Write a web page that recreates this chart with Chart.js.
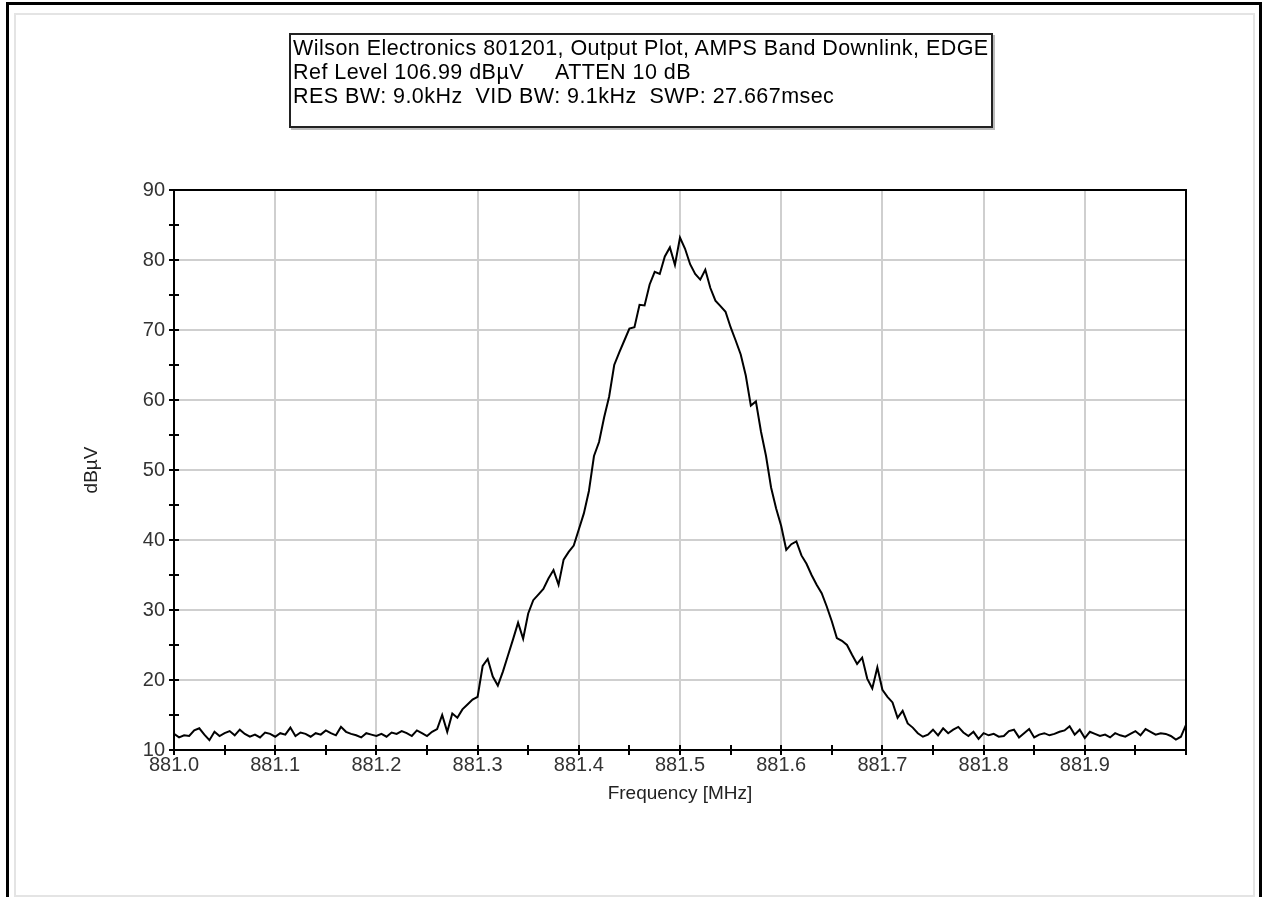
<!DOCTYPE html>
<html>
<head>
<meta charset="utf-8">
<script src="https://cdn.jsdelivr.net/npm/chart.js@4.4.1/dist/chart.umd.min.js"></script>
<style>
    html, body { margin: 0; padding: 0; background: #fff; }
    body { width: 1267px; height: 897px; position: relative; overflow: hidden; font-family: 'Liberation Sans', Arial, sans-serif; }
    #outer { position: absolute; left: 6px; top: 2px; width: 1250px; height: 900px; border-left: 3px solid #000; border-top: 3px solid #000; border-right: 3px solid #000; }
    #inner { position: absolute; left: 14px; top: 13px; width: 1237px; height: 880px; border: 2px solid #e4e4e4; }
    #chart { position: absolute; left: 0; top: 0; }
    #header { position: absolute; left: 289px; top: 33px; width: 698px; height: 90px; border: 2px solid #222;
              box-shadow: 2px 2px 0 #bbb; background: #fff; font-size: 21.5px; line-height: 24px; color: #000; padding: 1px 0 0 2px; white-space: nowrap; letter-spacing: 0.45px; }
</style>
</head>
<body>
<div id="outer"></div>
<div id="inner"></div>
<canvas id="chart" width="1267" height="897"></canvas>
<div id="header"></div>
<script>
// sweep: 881.000 .. 882.000 MHz, one reading every 5 kHz
var sweepStart = 881.0;
var sweepStep = 0.005;

var levels = [
    12.3, 11.8, 12.1, 12.0, 12.8, 13.1, 12.2, 11.4, 12.6, 12.0,
    12.4, 12.7, 12.1, 12.9, 12.3, 11.9, 12.2, 11.8, 12.5, 12.3,
    11.9, 12.4, 12.2, 13.2, 12.0, 12.5, 12.3, 11.9, 12.4, 12.2,
    12.8, 12.4, 12.1, 13.3, 12.6, 12.3, 12.1, 11.8, 12.4, 12.2,
    12.0, 12.3, 11.9, 12.5, 12.3, 12.7, 12.4, 12.0, 12.8, 12.4,
    12.0, 12.6, 13.0, 15.0, 12.6, 15.2, 14.6, 15.8, 16.5, 17.2,
    17.6, 22.0, 23.0, 20.5, 19.2, 21.2, 23.5, 25.8, 28.2, 25.9,
    29.5, 31.4, 32.2, 33.0, 34.5, 35.7, 33.6, 37.2, 38.3, 39.2,
    41.5, 43.8, 47.0, 52.0, 54.0, 57.5, 60.5, 65.0, 66.8, 68.5,
    70.2, 70.4, 73.6, 73.5, 76.5, 78.3, 78.0, 80.5, 81.8, 79.3,
    83.2, 81.6, 79.4, 78.0, 77.2, 78.6, 76.0, 74.2, 73.4, 72.6,
    70.4, 68.5, 66.5, 63.5, 59.2, 59.8, 55.5, 52.0, 47.5, 44.5,
    42.0, 38.6, 39.4, 39.8, 37.8, 36.6, 35.0, 33.6, 32.4, 30.5,
    28.4, 26.0, 25.6, 25.0, 23.6, 22.3, 23.2, 20.2, 18.8, 21.8,
    18.6, 17.6, 16.8, 14.6, 15.6, 13.8, 13.2, 12.4, 11.9, 12.2,
    12.9, 12.1, 13.1, 12.4, 12.9, 13.3, 12.5, 12.0, 12.6, 11.6,
    12.4, 12.1, 12.3, 11.9, 12.0, 12.7, 12.9, 11.8, 12.4, 13.0,
    11.8, 12.2, 12.4, 12.1, 12.3, 12.6, 12.8, 13.4, 12.2, 12.9,
    11.7, 12.6, 12.3, 12.0, 12.2, 11.8, 12.4, 12.1, 11.9, 12.3,
    12.7, 12.1, 13.0, 12.6, 12.2, 12.4, 12.3, 12.0, 11.5, 11.9,
    13.6
];

var headerLines = [
    'Wilson Electronics 801201, Output Plot, AMPS Band Downlink, EDGE',
    'Ref Level 106.99 dBµV     ATTEN 10 dB',
    'RES BW: 9.0kHz  VID BW: 9.1kHz  SWP: 27.667msec'
];

var xMin = 881.0, xMax = 882.0, xMajor = 0.1, xMinor = 0.05;
var yMin = 10, yMax = 90, yMajor = 10, yMinor = 5;

headerLines.forEach(line => {
    let d = document.createElement('div');
    d.style.whiteSpace = 'pre';
    d.textContent = line;
    document.getElementById('header').appendChild(d);
});

var isMajor = function(v, major) {
    var r = v / major;
    return Math.abs(r - Math.round(r)) < 1e-6;
};

// cross ticks on both axes + top/right frame
var frameTicks = {
    id: 'frameTicks',
    afterDraw: function(chart) {
        let ctx = chart.ctx;
        let a = chart.chartArea;
        let xs = chart.scales.x, ys = chart.scales.y;
        ctx.save();
        ctx.strokeStyle = '#000';
        ctx.lineWidth = 2;
        ctx.beginPath();
        ctx.moveTo(a.left, a.top);
        ctx.lineTo(a.right, a.top);
        ctx.lineTo(a.right, a.bottom);
        ctx.stroke();
        ctx.beginPath();
        xs.ticks.forEach(t => {
            let px = Math.round(xs.getPixelForValue(t.value));
            ctx.moveTo(px, a.bottom - 5);
            ctx.lineTo(px, a.bottom + 5);
        });
        ys.ticks.forEach(t => {
            let py = Math.round(ys.getPixelForValue(t.value));
            ctx.moveTo(a.left - 5, py);
            ctx.lineTo(a.left + 5, py);
        });
        ctx.stroke();
        ctx.restore();
    }
};

var points = levels.map((v, i) => ({ x: sweepStart + i * sweepStep, y: v }));

new Chart(document.getElementById('chart').getContext('2d'), {
    type: 'line',
    data: {
        datasets: [{
            data: points,
            borderColor: '#000',
            borderWidth: 2,
            pointRadius: 0,
            tension: 0,
            fill: false
        }]
    },
    options: {
        responsive: false,
        animation: false,
        layout: { padding: { left: 0, top: 190, right: 81, bottom: 0 } },
        plugins: { legend: { display: false }, tooltip: { enabled: false } },
        scales: {
            x: {
                type: 'linear',
                min: xMin,
                max: xMax,
                afterFit: function(scale) { scale.height = 147; },
                border: { display: true, color: '#000', width: 2 },
                grid: {
                    drawTicks: false,
                    lineWidth: 2,
                    color: ctx => (ctx.tick && isMajor(ctx.tick.value - xMin, xMajor) ? '#cfcfcf' : 'transparent')
                },
                ticks: {
                    stepSize: xMinor,
                    autoSkip: false,
                    maxRotation: 0,
                    padding: 3,
                    color: '#333',
                    font: { family: 'Liberation Sans', size: 20 },
                    callback: function(v) {
                        if (!isMajor(v - xMin, xMajor) || v > xMax - 0.01) return '';
                        return v.toFixed(1);
                    }
                },
                title: {
                    display: true,
                    text: 'Frequency [MHz]',
                    color: '#222',
                    font: { family: 'Liberation Sans', size: 19 },
                    padding: { top: 0, bottom: 92 }
                }
            },
            y: {
                min: yMin,
                max: yMax,
                afterFit: function(scale) { scale.width = 174; },
                border: { display: true, color: '#000', width: 2 },
                grid: {
                    drawTicks: false,
                    lineWidth: 2,
                    color: ctx => (ctx.tick && isMajor(ctx.tick.value, yMajor) ? '#cfcfcf' : 'transparent')
                },
                ticks: {
                    stepSize: yMinor,
                    autoSkip: false,
                    padding: 9,
                    color: '#333',
                    font: { family: 'Liberation Sans', size: 20 },
                    callback: v => (isMajor(v, yMajor) ? String(v) : '')
                },
                title: {
                    display: true,
                    text: 'dBµV',
                    color: '#222',
                    font: { family: 'Liberation Sans', size: 19 },
                    padding: { top: 80, bottom: 0 }
                }
            }
        }
    },
    plugins: [frameTicks]
});
</script>
</body>
</html>
